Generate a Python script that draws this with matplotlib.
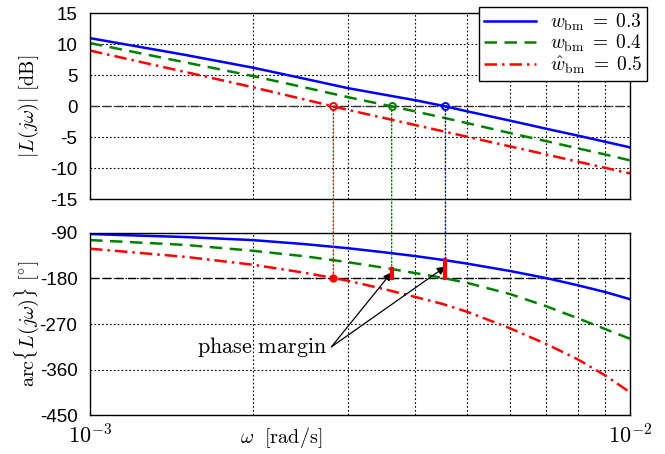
import numpy as np
import matplotlib
matplotlib.use("Agg")
import matplotlib.pyplot as plt
from matplotlib.patches import ConnectionPatch
from matplotlib.ticker import FixedLocator, FuncFormatter, NullFormatter

plt.rcParams["font.family"] = ["Liberation Sans", "DejaVu Sans"]
plt.rcParams["mathtext.fontset"] = "cm"
plt.rcParams["axes.unicode_minus"] = False

# frequency points [rad/s]
omega = [1e-3, 1.5e-3, 2e-3, 2.5e-3, 3e-3, 3.5e-3, 4e-3, 4.5e-3,
         5e-3, 6e-3, 7e-3, 8e-3, 9e-3, 1e-2]

# magnitude [dB]
mag_03 = [11.0, 8.3, 6.25, 4.45, 2.95, 1.9, 1.0, 0.1, -0.8, -2.3, -3.6, -4.7, -5.7, -6.6]
mag_04 = [10.2, 7.1, 4.9, 3.05, 1.5, 0.27, -0.8, -1.8, -2.7, -4.3, -5.6, -6.75, -7.75, -8.7]
mag_05 = [9.0, 5.55, 3.1, 1.1, -0.55, -1.86, -3.0, -4.0, -4.9, -6.45, -7.75, -8.9, -9.9, -10.8]

# phase [deg]
ph_03 = [-92.6, -98.5, -104.5, -112.5, -120.5, -128.5, -136, -143.5,
         -151, -165.5, -179.5, -193.5, -207, -221]
ph_04 = [-104.5, -114, -125.5, -136.5, -148, -159, -169.5, -179,
         -189, -211, -235, -258.5, -280, -299]
ph_05 = [-121.5, -137.5, -153, -169, -184.5, -201, -216.5, -230.5,
         -246, -278.5, -309.5, -339.5, -371.5, -404.5]

labels = [r"$w_{\mathrm{bm}}\;=\;0.3$", r"$w_{\mathrm{bm}}\;=\;0.4$",
          r"$\hat{w}_{\mathrm{bm}}\;=\;0.5$"]
colors = ["#0000ff", "#008000", "#ff0000"]
styles = ["-", (0, (5, 3)), (0, (5, 2, 1, 2))]

fig = plt.figure(figsize=(6.65, 4.54), dpi=100)
ax1 = fig.add_axes([0.1353, 0.5606, 0.812, 0.4101])
ax2 = fig.add_axes([0.1353, 0.0852, 0.812, 0.4022])

logw = np.log10(omega)
mags = [mag_03, mag_04, mag_05]
phs = [ph_03, ph_04, ph_05]

for m, p, lab, c, ls in zip(mags, phs, labels, colors, styles):
    ax1.semilogx(omega, m, color=c, linestyle=ls, linewidth=1.8, label=lab)
    ax2.semilogx(omega, p, color=c, linestyle=ls, linewidth=1.8)

# reference lines
ax1.axhline(0, color="#333333", linestyle=(0, (6, 3)), linewidth=1.0, zorder=1)
ax2.axhline(-180, color="k", linestyle=(0, (6, 3)), linewidth=1.0, zorder=1)

# crossover frequencies and phase margins
for i, (m, p, c) in enumerate(zip(mags, phs, colors)):
    m = np.array(m)
    k = np.where(m < 0)[0][0]
    lw_c = logw[k - 1] + (0 - m[k - 1]) * (logw[k] - logw[k - 1]) / (m[k] - m[k - 1])
    wc = 10 ** lw_c
    ph_c = np.interp(lw_c, logw, p)
    ax1.plot(wc, 0, "o", mfc="none", mec=c, mew=1.4, ms=5, zorder=5)
    con = ConnectionPatch(xyA=(wc, 0), coordsA=ax1.transData,
                          xyB=(wc, ph_c), coordsB=ax2.transData,
                          color=c, linestyle=":", linewidth=1.0)
    fig.add_artist(con)
    if i == 2:
        ax2.plot(wc, -180, "o", color="r", mfc="r", ms=5, zorder=5)
    else:
        ax2.plot([wc, wc], [-180, ph_c], color="r", linewidth=3, zorder=5)
        tip = -180 + 0.65 * (ph_c + 180)
        ax2.annotate("", xy=(wc, tip), xytext=(2.8e-3, -315),
                     arrowprops=dict(arrowstyle="-|>", color="k", lw=0.9,
                                     mutation_scale=12, shrinkA=0, shrinkB=0))

ax2.text(2.75e-3, -315, r"$\mathrm{phase\ margin}$", fontsize=16,
         ha="right", va="center")

# axes formatting
for ax in (ax1, ax2):
    ax.set_xlim(1e-3, 1e-2)
    ax.xaxis.set_major_locator(FixedLocator([1e-3, 1e-2]))
    ax.xaxis.set_minor_locator(FixedLocator([i * 1e-3 for i in range(2, 10)]))
    ax.xaxis.set_minor_formatter(NullFormatter())
    ax.grid(True, which="both", axis="x", color="k", linestyle=(0, (1.5, 2)), linewidth=0.8)
    ax.grid(True, which="major", axis="y", color="k", linestyle=(0, (1.5, 2)), linewidth=0.8)
    ax.tick_params(which="both", direction="in", length=0, labelsize=13.5)
    ax.tick_params(axis="y", pad=9)
    for s in ax.spines.values():
        s.set_linewidth(1.0)
    ax.set_axisbelow(True)

ax1.set_ylim(-15, 15)
ax1.set_yticks([15, 10, 5, 0, -5, -10, -15])
ax1.xaxis.set_major_formatter(NullFormatter())
ax1.set_ylabel(r"$|L(j\omega)|\ [\mathrm{dB}]$", fontsize=14.5)
ax1.yaxis.set_label_coords(-0.09, 0.5)

ax2.set_ylim(-450, -90)
ax2.set_yticks([-90, -180, -270, -360, -450])
ax2.xaxis.set_major_formatter(FuncFormatter(
    lambda v, pos: r"$\mathsf{10^{%d}}$" % round(np.log10(v))))
ax2.tick_params(axis="x", labelsize=16, pad=6)
ax2.set_ylabel(r"$\mathrm{arc}\{L(j\omega)\}\ [^{\circ}]$", fontsize=14.5)
ax2.yaxis.set_label_coords(-0.09, 0.5)
ax2.set_xlabel(r"$\omega\ \ [\mathrm{rad/s}]$", fontsize=14.5)
ax2.xaxis.set_label_coords(0.354, -0.055)

ax1.legend(loc="upper right", bbox_to_anchor=(647 / 665, 1 - 7 / 454),
           bbox_transform=fig.transFigure, fontsize=14, fancybox=False,
           edgecolor="k", framealpha=1, borderaxespad=0, handlelength=2.7,
           handletextpad=0.7, labelspacing=0.0, borderpad=0.25)

fig.savefig("out.png", dpi=100)
